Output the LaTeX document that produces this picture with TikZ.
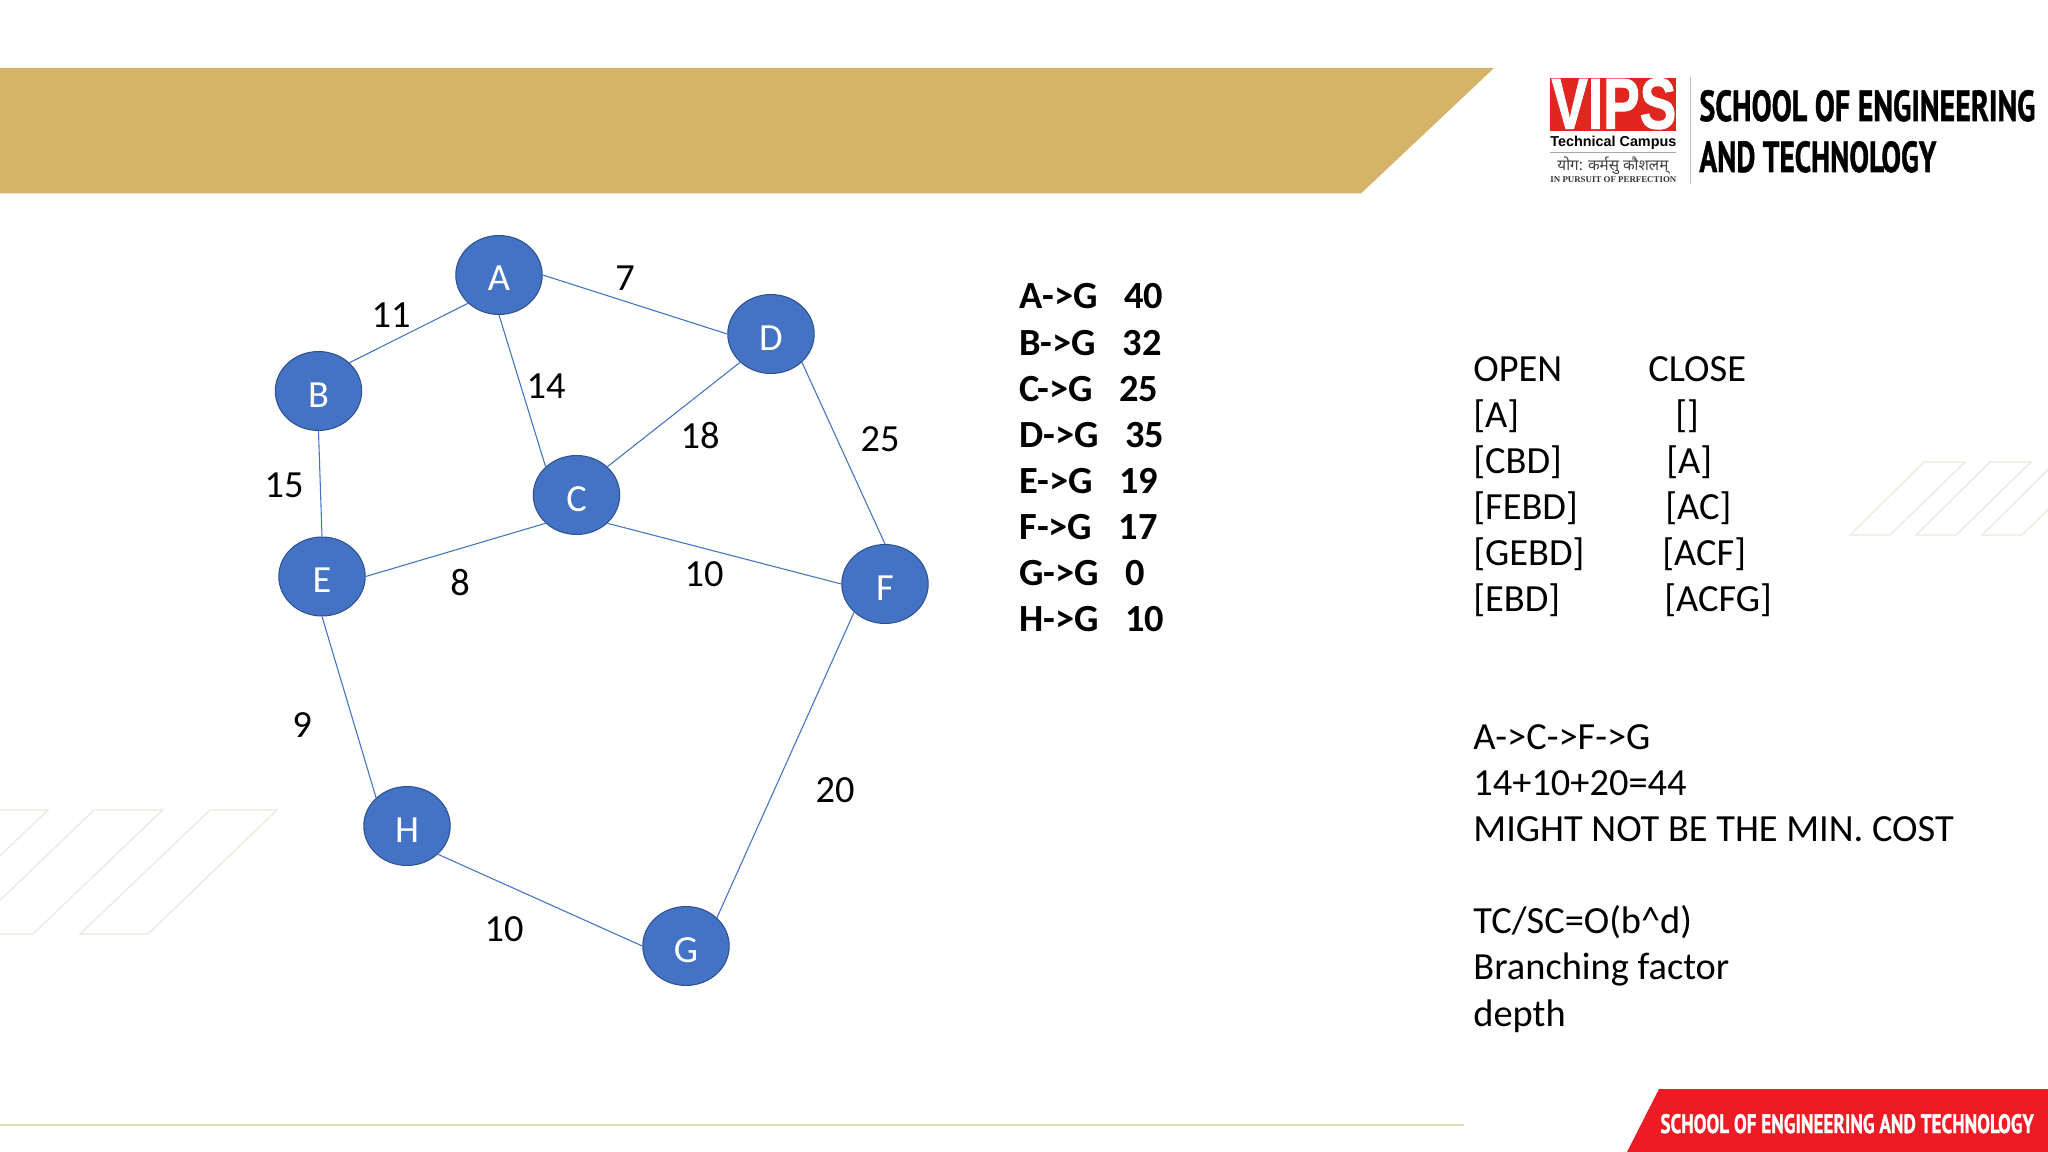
\documentclass[tikz,border=0pt]{standalone}
\usepackage{fontspec}
\setmainfont{Carlito}
\newfontfamily\headfont{PT Sans}[BoldFeatures={FakeBold=1.2}]
\newfontfamily\logofont{Liberation Sans}[BoldFeatures={FakeBold=1.5}]
\newfontfamily\tcfont{Liberation Sans}
\newfontfamily\serfont{Liberation Serif}
\newfontfamily\hindifont[Script=Devanagari]{Noto Sans}
\definecolor{gold}{HTML}{D5B368}
\definecolor{nodeblue}{HTML}{4472C4}
\definecolor{nodeedge}{HTML}{2F528F}
\definecolor{edgeblue}{HTML}{4472C4}
\definecolor{vipsred}{HTML}{E0261F}
\definecolor{barred}{HTML}{ED1C24}
\definecolor{ghost}{HTML}{EBE9DE}
\definecolor{footline}{HTML}{DDE0B8}
\tikzset{
  x=0.46875pt,y=-0.46875pt,
  gnode/.style={ellipse,fill=nodeblue,draw=nodeedge,line width=0.5pt,minimum width=40.5pt,minimum height=37pt,inner sep=0pt,text=white,text height=15pt,text depth=0pt,font=\fontsize{18}{21}\selectfont},
  gedge/.style={draw=edgeblue,line width=0.5pt},
  weight/.style={inner sep=0pt,font=\fontsize{18}{21}\selectfont},
  body/.style={inner sep=0pt,anchor=base west,font=\fontsize{18}{21}\selectfont},
  heur/.style={body,font=\fontsize{18}{21}\selectfont\bfseries},
  ghostline/.style={draw=ghost,line width=0.6pt},
  logotext/.style={inner sep=0pt,anchor=base west},
}
\usetikzlibrary{shapes.geometric}
\begin{document}
\begin{tikzpicture}
\useasboundingbox (0,0) rectangle (2048,1152);
\clip (0,0) rectangle (2048,1152);
\fill[white] (0,0) rectangle (2048,1152);
% decorative stripes
\foreach \d in {0,1,2}{
  \draw[ghostline] ({210-116*(2-\d)},810) -- ({277-114.5*(2-\d)},810) -- ({148-115*(2-\d)},934) -- ({80-115*(2-\d)},934) -- cycle;
  \draw[ghostline] ({1924+66*\d},462) -- ({1965+66*\d},462) -- ({1890+66*\d},535) -- ({1850+66*\d},535) -- cycle;
}
% banners
\fill[gold] (0,68) -- (1494,68) -- (1361,193.5) -- (0,193.5) -- cycle;
\fill[barred] (1659,1089) -- (2048,1089) -- (2048,1152) -- (1627,1152) -- cycle;
\draw[footline,line width=0.5pt] (0,1125) -- (1464,1125);
% logo
\fill[vipsred] (1550,78) rectangle (1676,131);
\node[logotext,text=white] (vips) at (1551,128.5) {\resizebox{58.5pt}{23.5pt}{\logofont\bfseries VIPS}};
\node[logotext] (tc) at (1550,147) {\resizebox{59pt}{!}{\tcfont\bfseries Technical Campus}};
\draw[black!35,line width=0.3pt] (1550,152) -- (1676,152);
\node[logotext,text=black!75] (yoga) at (1557,171) {\resizebox{52pt}{!}{\hindifont योग: कर्मसु कौशलम्}};
\node[logotext,text=black!80] (pursuit) at (1550,183) {\resizebox{59pt}{!}{\serfont\bfseries IN PURSUIT OF PERFECTION}};
\draw[black!25,line width=0.3pt] (1690,77) -- (1690,184);
\node[logotext] (t1) at (1699,121) {\resizebox{157.5pt}{14.5pt}{\headfont\bfseries SCHOOL OF ENGINEERING}};
\node[logotext] (t2) at (1699,172) {\resizebox{111pt}{14.5pt}{\headfont\bfseries AND TECHNOLOGY}};
\node[logotext,text=white] (t3) at (1660,1133) {\resizebox{175pt}{8.9pt}{\headfont\bfseries SCHOOL OF ENGINEERING AND TECHNOLOGY}};
% graph
\node[gnode] (A) at (499,275) {A};
\node[gnode] (B) at (318.5,391) {B};
\node[gnode] (C) at (576.5,495) {C};
\node[gnode] (D) at (771,334) {D};
\node[gnode] (E) at (322,576.5) {E};
\node[gnode] (F) at (885,584) {F};
\node[gnode] (G) at (686,946) {G};
\node[gnode] (H) at (407,826) {H};
\draw[gedge] (A.south west) -- (B.north east);
\draw[gedge] (A.south) -- (C.north west);
\draw[gedge] (A.east) -- (D.west);
\draw[gedge] (B.south) -- (E.north);
\draw[gedge] (C.north east) -- (D.south west);
\draw[gedge] (C.south west) -- (E.east);
\draw[gedge] (C.south east) -- (F.west);
\draw[gedge] (D.south east) -- (F.north);
\draw[gedge] (E.south) -- (H.north west);
\draw[gedge] (F.south west) -- (G.north east);
\draw[gedge] (H.south east) -- (G.west);
\node[weight] (w1) at (391,315) {11};
\node[weight] (w2) at (625,278) {7};
\node[weight] (w3) at (546,386) {14};
\node[weight] (w4) at (700,436) {18};
\node[weight] (w5) at (880,439) {25};
\node[weight] (w6) at (284,485) {15};
\node[weight] (w7) at (460,583) {8};
\node[weight] (w8) at (704,574) {10};
\node[weight] (w9) at (302,725) {9};
\node[weight] (w10) at (835,790) {20};
\node[weight] (w11) at (504,929) {10};
% heuristics
\node[heur] (h1) at (1019,309) {A->G\hspace{0.69em}40};
\node[heur] (h2) at (1019,355) {B->G\hspace{0.69em}32};
\node[heur] (h3) at (1019,401) {C->G\hspace{0.69em}25};
\node[heur] (h4) at (1019,447) {D->G\hspace{0.69em}35};
\node[heur] (h5) at (1019,493) {E->G\hspace{0.69em}19};
\node[heur] (h6) at (1019,539) {F->G\hspace{0.69em}17};
\node[heur] (h7) at (1019,585) {G->G\hspace{0.69em}0};
\node[heur] (h8) at (1019,631) {H->G\hspace{0.69em}10};
% open / close table
\node[body] (o0) at (1473,381) {OPEN};
\node[body] (o1) at (1473,427) {[A]};
\node[body] (o2) at (1473,473) {[CBD]};
\node[body] (o3) at (1473,519) {[FEBD]};
\node[body] (o4) at (1473,565) {[GEBD]};
\node[body] (o5) at (1473,611) {[EBD]};
\node[body] (c0) at (1648,381) {CLOSE};
\node[body] (c1) at (1675,427) {[]};
\node[body] (c2) at (1666,473) {[A]};
\node[body] (c3) at (1665,519) {[AC]};
\node[body] (c4) at (1662,565) {[ACF]};
\node[body] (c5) at (1664,611) {[ACFG]};
% notes
\node[body] (n1) at (1473,749) {A->C->F->G};
\node[body] (n2) at (1473,795) {14+10+20=44};
\node[body] (n3) at (1473,841) {MIGHT NOT BE THE MIN. COST};
\node[body] (n4) at (1473,933) {TC/SC=O(b\^{}d)};
\node[body] (n5) at (1473,979.5) {Branching factor};
\node[body] (n6) at (1473,1026) {depth};
\end{tikzpicture}
\end{document}
